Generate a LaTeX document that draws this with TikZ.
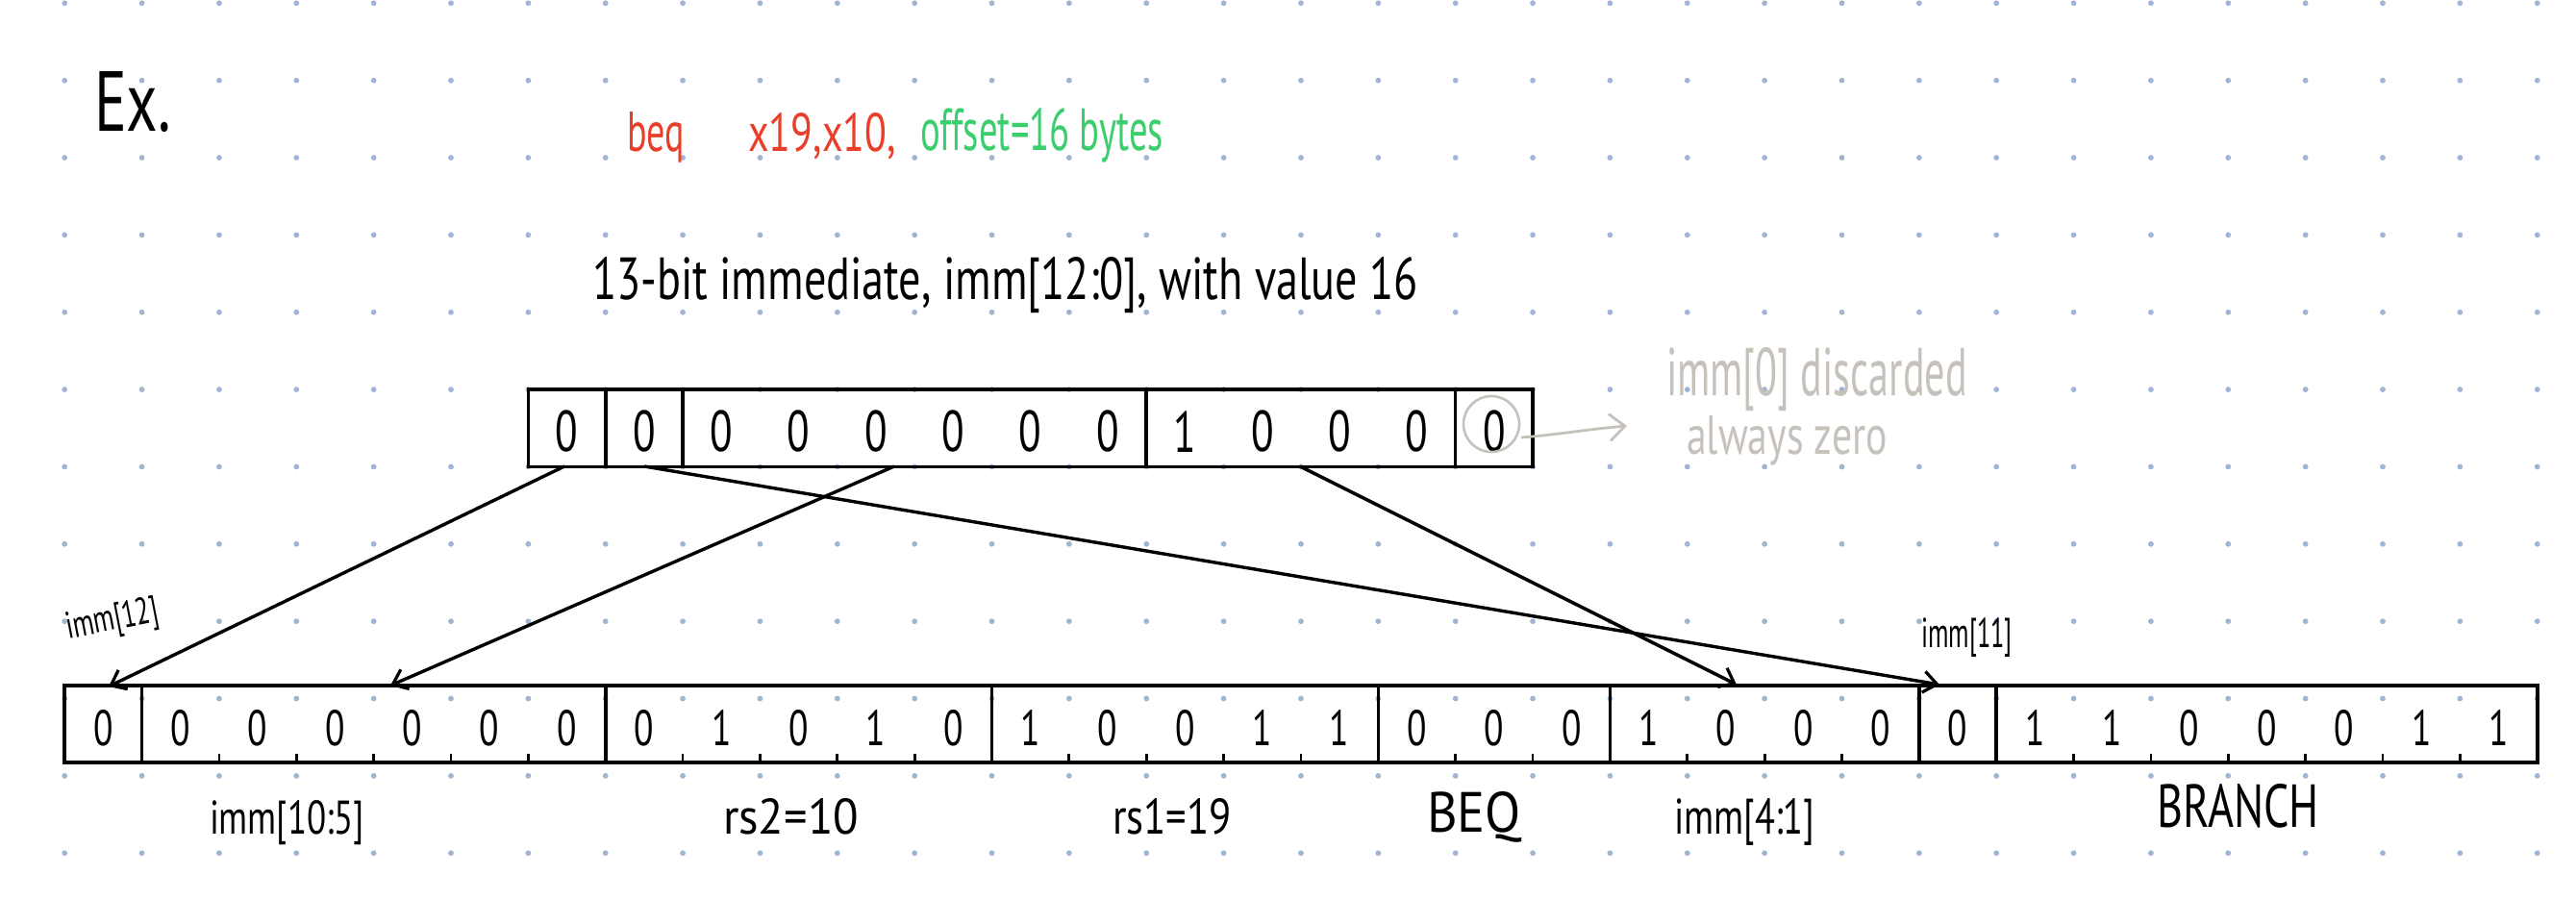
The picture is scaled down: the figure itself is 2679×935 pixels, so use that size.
\documentclass[tikz,border=0pt]{standalone}
\usepackage{fontspec}
\setmainfont{PT Sans}
\usepackage{graphicx}
\usetikzlibrary{arrows.meta}
\newlength{\pxl}\setlength{\pxl}{0.5pt}
\newcommand{\hw}[3]{\resizebox{#1\pxl}{#2\pxl}{#3}}
\definecolor{dotc}{RGB}{160,180,212}
\definecolor{redc}{RGB}{233,62,42}
\definecolor{greenc}{RGB}{60,206,110}
\definecolor{grayc}{RGB}{198,194,187}
\begin{document}
\begin{tikzpicture}[x=0.5pt,y=-0.5pt,
  txt/.style={anchor=base west, inner sep=0pt, outer sep=0pt},
  box/.style={line width=1.8pt},
  tickmark/.style={line width=1.4pt},
  conn/.style={line width=1.7pt, -{Straight Barb[length=7pt,width=11pt,line width=1.6pt]}},
  garrow/.style={grayc, line width=1.4pt, -{Straight Barb[length=8pt,width=14pt,line width=1.4pt]}},
  lod/.style={inner sep=0pt, font=\fontsize{26}{26}\selectfont},
  hid/.style={inner sep=0pt, font=\fontsize{30}{30}\selectfont},
]
\fill[white] (0,0) rectangle (2679,935);
\useasboundingbox (0,0) rectangle (2679,935);
% dot grid
\foreach \k in {0,...,32}
  \foreach \j in {0,...,11}
    \fill[dotc] ({67.2+80.36*\k},{3.3+80.36*\j}) circle (2.9);

% titles
\node[txt] (ex) at (98,137) {\hw{80}{62}{Ex.}};
\node[txt, text=redc] (beq) at (652,158) {\hw{60}{41}{beq}};
\node[txt, text=redc] (regs) at (778,158) {\hw{154}{40}{x19,x10,}};
\node[txt, text=greenc] (off) at (957,157) {\hw{253}{44}{offset=16 bytes}};
\node[txt] (imm13) at (616,312) {\hw{859}{44}{13-bit immediate, imm[12:0], with value 16}};

% top 13-bit box
\draw[box] (549.4,405.1) rectangle (1594,485.5);
\foreach \k in {7,8,14,18}
  \draw[box] ({67.2+80.36*\k},405.1) -- ({67.2+80.36*\k},485.5);
\foreach \b [count=\i from 0] in {0,0,0,0,0,0,0,0,1,0,0,0,0}
  \node[hid] (hi\i) at ({67.2+80.36*(\i+6.5)},449) {\scalebox{0.72}[1]{\b}};

% circle and note
\node[draw=grayc, circle, line width=1.3pt, minimum size=29pt, inner sep=0pt] (circ) at (1551,441) {};
\coordinate (gs) at (1582,455);
\coordinate (ge) at (1692,443);
\draw[garrow] (gs) .. controls (1620,452) and (1655,446) .. (ge);
\node[txt, text=grayc] (note1) at (1733,412) {\hw{313}{50}{imm[0] discarded}};
\node[txt, text=grayc] (note2) at (1754,473) {\hw{209}{40}{always zero}};

% lower 32-bit box
\draw[box] (67.2,713) rectangle (2638.7,793);
\foreach \k in {1,7,12,17,20,24,25}
  \draw[box] ({67.2+80.36*\k},713) -- ({67.2+80.36*\k},793);
\foreach \k in {2,3,4,5,6,8,9,10,11,13,14,15,16,18,19,21,22,23,26,27,28,29,30,31}
  \draw[tickmark] ({67.2+80.36*\k},793) -- ({67.2+80.36*\k},784);
\foreach \b [count=\i from 0] in {0,0,0,0,0,0,0,0,1,0,1,0,1,0,0,1,1,0,0,0,1,0,0,0,0,1,1,0,0,0,1,1}
  \node[lod] (lo\i) at ({67.2+80.36*(\i+0.5)},757) {\scalebox{0.72}[1]{\b}};

% field labels
\node[txt] (l1) at (218,867) {\hw{161}{35}{imm[10:5]}};
\node[txt] (l2) at (752,867) {\hw{141}{37}{rs2=10}};
\node[txt] (l3) at (1157,867) {\hw{124}{37}{rs1=19}};
\node[txt] (l4) at (1484,865) {\hw{98}{42}{BEQ}};
\node[txt] (l5) at (1741,867) {\hw{146}{37}{imm[4:1]}};
\node[txt] (l6) at (2243,860) {\hw{169}{45}{BRANCH}};
\node[inner sep=0pt, rotate=11] (l12) at (117,646) {\hw{97}{28}{imm[12]}};
\node[txt] (l11) at (1998,673) {\hw{95}{31}{imm[11]}};

% connectors
\coordinate (s12) at (587,485);
\coordinate (e12) at (113,714);
\coordinate (s105) at (930,485);
\coordinate (e105) at (406,713);
\coordinate (s11) at (670,485);
\coordinate (e11) at (2017,712);
\coordinate (s41) at (1352,485);
\coordinate (e41) at (1806,712);
\draw[conn] (s12) -- (e12);
\draw[conn] (s105) -- (e105);
\draw[conn] (s11) -- (e11);
\draw[conn] (s41) -- (e41);
\end{tikzpicture}
\end{document}
